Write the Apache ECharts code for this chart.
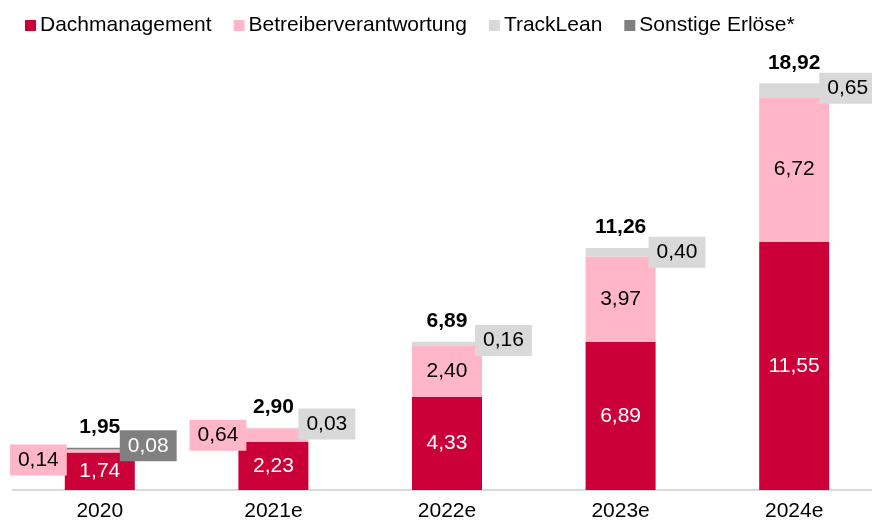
<!DOCTYPE html>
<html>
<head>
<meta charset="utf-8">
<script src="https://cdn.jsdelivr.net/npm/echarts@6/dist/echarts.min.js"></script>
<style>
  html, body { margin: 0; padding: 0; background: #fff; overflow: hidden; }
  #chart { width: 882px; height: 525px; }
</style>
</head>
<body>
<div id="chart"></div>
<script>
// Umsatzplanung je Geschäftsbereich
const years = ["2020", "2021e", "2022e", "2023e", "2024e"];
const dachmanagement = [1.74, 2.23, 4.33, 6.89, 11.55];
const betreiber = [0.14, 0.64, 2.40, 3.97, 6.72];
const trackLean = [0, 0.03, 0.16, 0.40, 0.65];
const sonstige = [0.08, 0, 0, 0, 0];
const totals = [1.95, 2.90, 6.89, 11.26, 18.92];

const FONT = "Liberation Sans, Arial, sans-serif";
const RED = "#cc0038";
const PINK = "#ffb6c9";
const LIGHT = "#d9d9d9";
const DARK = "#808080";

// Beschriftungen neben dem Balken (kleine Werte)
const pinkOutside = { 0: [2, 9], 1: [8, 0] };
const lightOffsets = [[0, 0], [-10, -4], [-7, -3], [-7, 0], [-10, -2]];
const darkOffsets = [[-15, -3], [0, 0], [0, 0], [0, 0], [0, 0]];

function fmt(v) {
  return v.toFixed(2).replace(".", ",");
}

function sideLabel(bg, color, pos, offset) {
  return {
    show: true,
    position: pos,
    distance: 0,
    offset: offset,
    color: color,
    fontSize: 21,
    fontFamily: FONT,
    backgroundColor: bg,
    padding: [5, 8, 5, 8],
    formatter: (p) => fmt(p.value)
  };
}

let chart = echarts.init(document.getElementById("chart"));

let option = {
  animation: false,
  textStyle: { fontFamily: FONT },
  legend: {
    data: ["Dachmanagement", "Betreiberverantwortung", "TrackLean", "Sonstige Erlöse*"],
    left: 20,
    top: 10,
    icon: "rect",
    itemWidth: 11,
    itemHeight: 11,
    itemGap: 22,
    textStyle: { fontSize: 21, color: "#000", fontFamily: FONT, padding: [0, 0, 0, -1] }
  },
  grid: { left: 13, right: 1, top: 40, bottom: 35 },
  xAxis: {
    type: "category",
    data: years,
    axisLine: { lineStyle: { color: "#d9d9d9", width: 2 } },
    axisTick: { show: false },
    axisLabel: { color: "#000", fontSize: 21, fontFamily: FONT, margin: 11 }
  },
  yAxis: {
    type: "value",
    min: 0,
    max: 20.93,
    show: false,
    splitLine: { show: false }
  },
  series: [
    {
      name: "Dachmanagement",
      type: "bar",
      stack: "umsatz",
      barWidth: 70,
      itemStyle: { color: RED },
      label: {
        show: true,
        position: "inside",
        color: "#fff",
        fontSize: 21,
        fontFamily: FONT,
        formatter: (p) => fmt(p.value)
      },
      data: dachmanagement
    },
    {
      name: "Betreiberverantwortung",
      type: "bar",
      stack: "umsatz",
      itemStyle: { color: PINK },
      data: betreiber.map((v, i) => ({
        value: v,
        label: pinkOutside[i]
          ? sideLabel(PINK, "#000", "left", pinkOutside[i])
          : { show: true, position: "inside", color: "#000", fontSize: 21, fontFamily: FONT, formatter: (p) => fmt(p.value) }
      }))
    },
    {
      name: "TrackLean",
      type: "bar",
      stack: "umsatz",
      itemStyle: { color: LIGHT },
      data: trackLean.map((v, i) => ({
        value: v,
        label: v > 0 ? sideLabel(LIGHT, "#000", "right", lightOffsets[i]) : { show: false }
      }))
    },
    {
      name: "Sonstige Erlöse*",
      type: "bar",
      stack: "umsatz",
      itemStyle: { color: DARK },
      data: sonstige.map((v, i) => ({
        value: v,
        label: v > 0 ? sideLabel(DARK, "#fff", "right", darkOffsets[i]) : { show: false }
      }))
    },
    {
      name: "Summe",
      type: "bar",
      barGap: "-100%",
      barWidth: 70,
      silent: true,
      z: 1,
      itemStyle: { color: "rgba(0,0,0,0)" },
      label: {
        show: true,
        position: "top",
        distance: 10,
        color: "#000",
        fontWeight: "bold",
        fontSize: 21,
        fontFamily: FONT,
        formatter: (p) => fmt(p.value)
      },
      data: totals
    }
  ]
};

option && chart.setOption(option);
</script>
</body>
</html>
